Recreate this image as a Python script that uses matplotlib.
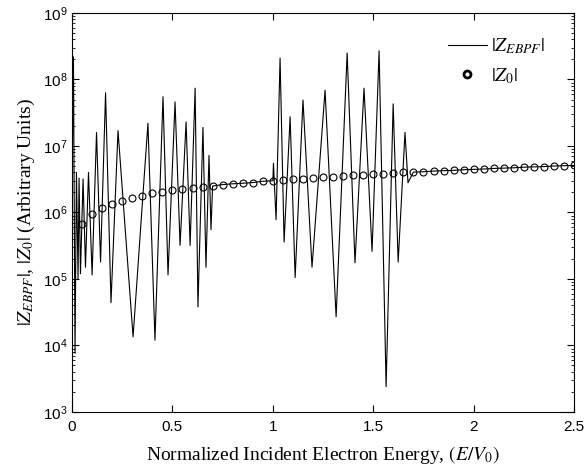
import numpy as np
import matplotlib
matplotlib.use("Agg")
from matplotlib import pyplot as plt
from matplotlib.lines import Line2D
from matplotlib.ticker import LogLocator, FixedLocator, NullFormatter

plt.rcParams['mathtext.fontset'] = 'stix'
plt.rcParams['font.family'] = ['Liberation Sans', 'DejaVu Sans']

z0_energy = np.round(np.arange(1, 51) * 0.05, 2)
z0_mag = [6.8e5, 9.5e5, 1.17e6, 1.35e6, 1.48e6, 1.66e6, 1.78e6, 1.95e6, 2.04e6, 2.19e6,
          2.24e6, 2.34e6, 2.40e6, 2.50e6, 2.63e6, 2.70e6, 2.75e6, 2.82e6, 2.95e6, 3.0e6,
          3.1e6, 3.16e6, 3.24e6, 3.3e6, 3.4e6, 3.45e6, 3.55e6, 3.6e6, 3.7e6, 3.75e6,
          3.85e6, 3.9e6, 4.0e6, 4.05e6, 4.1e6, 4.2e6, 4.25e6, 4.3e6, 4.4e6, 4.45e6,
          4.5e6, 4.6e6, 4.65e6, 4.7e6, 4.8e6, 4.85e6, 4.9e6, 5.0e6, 5.05e6, 5.1e6]

# |Z_EBPF| peaks/dips in the first band (0 - 0.7)
band1_energy = [0.000, 0.007, 0.015, 0.022, 0.030, 0.035, 0.042, 0.055, 0.067, 0.082,
                0.100, 0.122, 0.142, 0.167, 0.194, 0.229, 0.304, 0.378, 0.413, 0.453,
                0.478, 0.513, 0.538, 0.568, 0.588, 0.613, 0.627, 0.652, 0.667, 0.682,
                0.692]
band1_mag = [2.5e6, 2.2e8, 7.6e3, 4.0e6, 1.0e5, 3.3e6, 1.2e5, 3.2e6, 1.5e5, 4.0e6,
             1.15e5, 1.6e7, 1.8e5, 6.3e7, 4.4e4, 1.7e7, 1.35e4, 2.2e7, 1.2e4, 5.5e7,
             1.15e5, 4.6e7, 3.2e5, 2.3e7, 3.2e5, 7.4e7, 3.8e4, 1.9e7, 1.5e5, 7.2e6,
             5.5e5]

# |Z_EBPF| peaks/dips in the second band (1.0 - 1.7)
band2_energy = [1.003, 1.016, 1.036, 1.056, 1.086, 1.111, 1.150, 1.195, 1.260, 1.315,
                1.370, 1.409, 1.454, 1.494, 1.529, 1.564, 1.599, 1.624, 1.658, 1.673]
band2_mag = [5.5e6, 7.8e5, 2.1e8, 3.6e5, 2.75e7, 1.05e5, 4.9e7, 1.5e5, 6.9e7, 2.7e4,
             2.5e8, 1.75e5, 7.4e7, 2.6e5, 2.7e8, 2.4e3, 4.3e7, 1.8e5, 1.6e7, 2.8e6]

z0_energy = np.array(z0_energy)
z0_mag = np.array(z0_mag)
gap = (z0_energy >= 0.695) & (z0_energy <= 1.0)
tail = z0_energy >= 1.695
ebpf_energy = np.concatenate([band1_energy, z0_energy[gap], band2_energy, z0_energy[tail]])
ebpf_mag = np.concatenate([band1_mag, z0_mag[gap], band2_mag, z0_mag[tail]])

fig = plt.figure(figsize=(5.87, 4.76), dpi=100)
ax = fig.add_axes([0.1227, 0.1345, 0.8553, 0.8382])

ax.plot(ebpf_energy, ebpf_mag, color='k', lw=0.8)
ax.plot(z0_energy, z0_mag, 'o', ms=5, mfc='none', mec='k', mew=0.8)

ax.set_yscale('log')
ax.set_xlim(0, 2.5)
ax.set_ylim(1e3, 1e9)
ax.xaxis.set_major_locator(FixedLocator([0, 0.5, 1, 1.5, 2, 2.5]))
ax.set_xticklabels(['0', '0.5', '1', '1.5', '2', '2.5'])
ax.yaxis.set_major_locator(LogLocator(base=10, numticks=10))
ax.yaxis.set_minor_locator(LogLocator(base=10, subs=np.arange(2, 10), numticks=20))
ax.yaxis.set_minor_formatter(NullFormatter())
ax.tick_params(which='both', direction='in', top=True, right=True, labelsize=11)
ax.tick_params(which='major', length=5, width=0.8)
ax.tick_params(which='minor', length=2.5, width=0.6)
ax.tick_params(axis='x', pad=6)

for s in ax.spines.values():
    s.set_linewidth(0.8)

ax.set_xlabel('Normalized Incident Electron Energy, $(E/V_0)$',
              family='Liberation Serif', fontsize=14, labelpad=7)
ax.set_ylabel(r'$|Z_{EBPF}|$, $|Z_0|$ (Arbitrary Units)',
              family='Liberation Serif', fontsize=14, labelpad=4)

handles = [Line2D([], [], color='k', lw=0.8),
           Line2D([], [], ls='none', marker='o', ms=5, mfc='none', mec='k', mew=2)]
ax.legend(handles, [r'$|Z_{EBPF}|$', r'$|Z_0|$'], loc='upper right',
          bbox_to_anchor=(0.975, 0.985), frameon=False, fontsize=14,
          handlelength=2.0, handletextpad=0.2, labelspacing=0.5)

fig.savefig('out.png', dpi=100)
